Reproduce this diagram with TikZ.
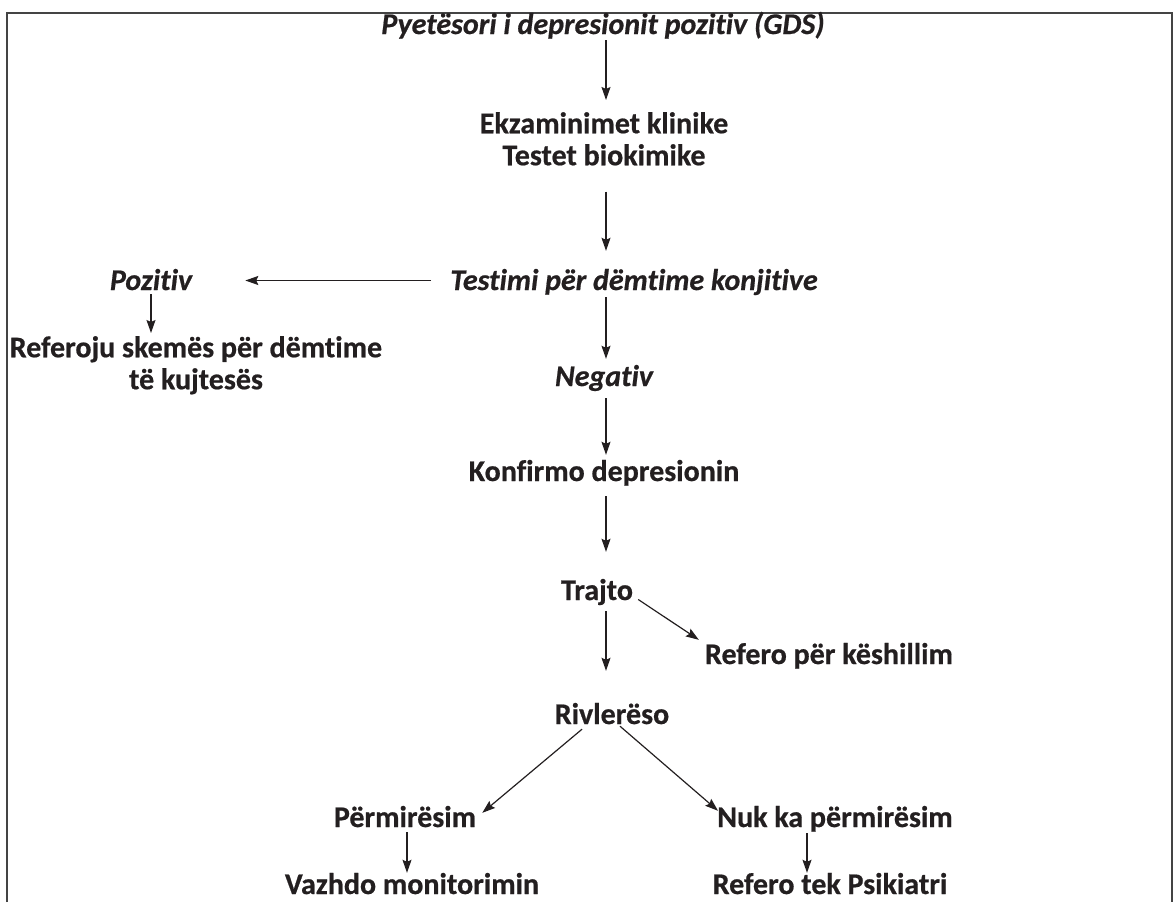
\documentclass[tikz,border=0pt]{standalone}
\usepackage{fontspec}
\setmainfont{Carlito}[Ligatures={NoCommon}, BoldFeatures={FakeBold=0.6}, BoldItalicFeatures={FakeBold=0.6}]
\usetikzlibrary{arrows.meta}
\definecolor{ink}{HTML}{231F20}
\definecolor{framec}{HTML}{444444}
\begin{document}
\begin{tikzpicture}[x=1pt,y=-1pt,
  lbl/.style={font=\fontsize{30}{32}\selectfont\bfseries, text=ink, inner sep=0pt,
              text height=19pt, text depth=0pt, anchor=base},
  ilbl/.style={lbl, font=\fontsize{30}{32}\selectfont\bfseries\itshape},
  lbltwo/.style={font=\fontsize{30}{32}\selectfont\bfseries, text=ink, inner sep=0pt,
              align=center, anchor=north},
  arr/.style={draw=ink, line width=1.2pt, -{Stealth[length=13pt,width=9pt,inset=2pt]}},
  framel/.style={draw=framec, line width=1.5pt}]
\useasboundingbox (0,0) rectangle (1175,902);
\draw[framel] (7,902) -- (7,13) -- (1172,13) -- (1172,902);

\coordinate (axis) at (606,0);
\coordinate (axl) at (407,0);
\coordinate (axr) at (807,0);

\node[ilbl] (t1) at (603,34) {Pyetësori i depresionit pozitiv (GDS)};
\node[lbltwo] (ek) at (604,112) {Ekzaminimet klinike\\Testet biokimike};
\node[ilbl] (test) at (634,290) {Testimi për dëmtime konjitive};
\node[ilbl] (poz) at (151,290) {Pozitiv};
\node[lbltwo] (ref) at (196,336) {Referoju skemës për dëmtime\\të kujtesës};
\node[ilbl] (neg) at (604,386) {Negativ};
\node[lbl] (konf) at (604,481) {Konfirmo depresionin};
\node[lbl] (tr) at (597,600) {Trajto};
\node[lbl] (kes) at (829,664) {Refero për këshillim};
\node[lbl] (riv) at (612,724) {Rivlerëso};
\node[lbl] (perm) at (405,827) {Përmirësim};
\node[lbl] (nuk) at (835,827) {Nuk ka përmirësim};
\node[lbl] (vaz) at (412,894) {Vazhdo monitorimin};
\node[lbl] (psi) at (830,894) {Refero tek Psikiatri};

\draw[arr, shorten <=6pt, shorten >=12pt] (t1.south -| axis) -- (ek.north -| axis);
\draw[arr, shorten <=26pt, shorten >=20pt] (ek.south -| axis) -- (test.north -| axis);
\draw[arr, shorten <=19pt, shorten >=53pt] (test.west) -- (test.west -| poz.east);
\draw[arr, shorten <=4pt, shorten >=3pt] (poz.south) -- (poz.south |- ref.north);
\draw[arr, shorten <=7pt, shorten >=8pt] (test.south -| axis) -- (neg.north -| axis);
\draw[arr, shorten <=12pt, shorten >=7pt] (neg.south -| axis) -- (konf.north -| axis);
\draw[arr, shorten <=15pt, shorten >=29pt] (konf.south -| axis) -- (tr.north -| axis);
\draw[arr, shorten <=11pt, shorten >=34pt] (tr.south -| axis) -- (riv.north -| axis);
\draw[arr] ([shift={(5,9)}]tr.east) -- ([shift={(-6,-5)}]kes.north west);
\draw[arr] ([shift={(-30,5)}]riv.south) -- ([shift={(6,5)}]perm.north east);
\draw[arr] ([shift={(8,2)}]riv.south) -- ([shift={(1,3)}]nuk.north west);
\draw[arr, shorten <=5pt, shorten >=2pt] (perm.south -| axl) -- (vaz.north -| axl);
\draw[arr, shorten <=6pt, shorten >=2pt] (nuk.south -| axr) -- (psi.north -| axr);
\end{tikzpicture}
\end{document}
